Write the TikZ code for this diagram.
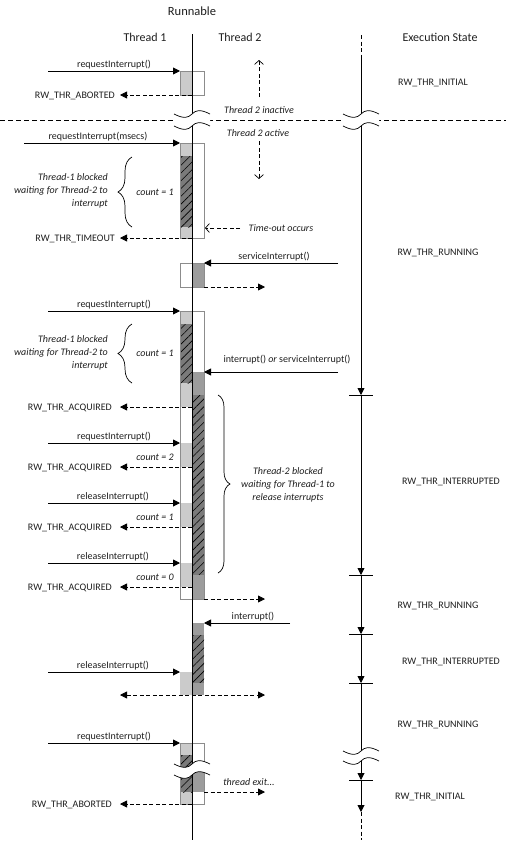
\documentclass[tikz,border=0pt]{standalone}
\usepackage{fontspec}
\setmainfont{Carlito}
\usetikzlibrary{arrows.meta,decorations.pathreplacing,patterns.meta}
\definecolor{lgray}{HTML}{CBCBCB}
\definecolor{dgray}{HTML}{9C9C9C}
\definecolor{hgray}{HTML}{7A7A7A}
\definecolor{bgray}{HTML}{8C8C8C}
\definecolor{txt}{HTML}{1E1E1E}
\tikzset{
  lbl/.style={font=\fontsize{10}{13}\selectfont, inner sep=0pt, text=txt},
  ilbl/.style={font=\fontsize{10}{13}\selectfont\itshape, inner sep=0pt, text=txt},
  hdr/.style={font=\fontsize{12}{14}\selectfont, inner sep=0pt, text=txt},
  callarrow/.style={line width=0.9pt, -{Triangle[length=7pt,width=7pt]}},
  retarrow/.style={line width=0.8pt, dash pattern=on 4pt off 2.5pt, -{Triangle[length=7pt,width=7pt]}},
  bothret/.style={line width=0.8pt, dash pattern=on 4pt off 2.5pt, {Triangle[length=7pt,width=7pt]}-{Triangle[length=7pt,width=7pt]}},
  notearrow/.style={line width=0.7pt, dash pattern=on 4pt off 2.5pt, -{Straight Barb[length=4pt,width=9pt]}},
  lifeline/.style={line width=0.9pt},
  outl/.style={draw=bgray, line width=0.6pt},
  lfill/.style={fill=lgray},
  dfill/.style={fill=dgray},
  hatch/.style={fill=hgray, postaction={pattern={Lines[angle=45,distance=5.5pt,line width=0.6pt]}, pattern color=black}},
  wavestroke/.style={line width=0.7pt},
  tickline/.style={line width=0.9pt},
  brc/.style={decorate, decoration={brace, amplitude=#1}, line width=0.7pt},
}
\newcommand\wavebreak[3]{%
  \fill[white] ({#1-18},#2) .. controls ({#1-8},{#2+5}) and ({#1-4},{#2+4}) .. (#1,#2)
     .. controls ({#1+4},{#2-4}) and ({#1+8},{#2-5}) .. ({#1+18},#2)
     -- ({#1+18},#3) .. controls ({#1+8},{#3-5}) and ({#1+4},{#3-4}) .. (#1,#3)
     .. controls ({#1-4},{#3+4}) and ({#1-8},{#3+5}) .. ({#1-18},#3) -- cycle;
  \draw[wavestroke] ({#1-18},#2) .. controls ({#1-8},{#2+5}) and ({#1-4},{#2+4}) .. (#1,#2)
     .. controls ({#1+4},{#2-4}) and ({#1+8},{#2-5}) .. ({#1+18},#2);
  \draw[wavestroke] ({#1-18},#3) .. controls ({#1-8},{#3+5}) and ({#1-4},{#3+4}) .. (#1,#3)
     .. controls ({#1+4},{#3-4}) and ({#1+8},{#3-5}) .. ({#1+18},#3);
}
\begin{document}
\begin{tikzpicture}[x=1pt,y=-1pt]
\useasboundingbox (0,0) rectangle (506,844);
% headers
\node[font=\fontsize{12.5}{14}\selectfont, inner sep=0pt, text=txt, anchor=base] (hrun) at (192,15) {Runnable};
\node[hdr, anchor=base] (ht1) at (145,41) {Thread 1};
\node[hdr, anchor=base] (ht2) at (240,41) {Thread 2};
\node[hdr, anchor=base] (hex) at (440,41) {Execution State};

% ---------- box fills ----------
% box A
\fill[lfill] (180,71) rectangle (192,95);
\draw[outl] (180,71) rectangle (204,95);
% box B
\fill[lfill] (180,143) rectangle (192,238);
\path[hatch] (181,156) rectangle (192,227);
\draw[outl] (180,143) rectangle (204,238);
% box C
\fill[dfill] (192,263) rectangle (204,287);
\draw[outl] (180,263) rectangle (204,287);
% box D
\fill[lfill] (180,311) rectangle (192,407);
\path[hatch] (181,324) rectangle (192,383);
\fill[lfill] (180,443) rectangle (192,467);
\fill[lfill] (180,503) rectangle (192,527);
\fill[lfill] (180,563) rectangle (192,587);
\fill[dfill] (192,372) rectangle (204,395);
\path[hatch] (192,395) rectangle (204,575);
\fill[dfill] (192,575) rectangle (204,599);
\draw[outl] (180,311) rectangle (204,599);
% box E
\fill[dfill] (192,623) rectangle (204,635);
\path[hatch] (192,635) rectangle (204,683);
\fill[dfill] (192,683) rectangle (204,695);
\fill[lfill] (180,672) rectangle (192,695);
% box F
\fill[lfill] (180,743) rectangle (192,804);
\path[hatch] (181,755) rectangle (192,770);
\path[hatch] (181,772) rectangle (192,792);
\fill[dfill] (192,772) rectangle (204,792);
\draw[outl] (180,743) rectangle (204,804);

% ---------- lifelines ----------
\coordinate (t1top) at (192,34);
\coordinate (t1bot) at (192,840);
\draw[lifeline] (t1top) -- (t1bot);
% execution state line
\coordinate (e0) at (361,35);
\coordinate (e1) at (361,58);
\coordinate (k1) at (361,395);
\coordinate (k2) at (361,575);
\coordinate (k3) at (361,634);
\coordinate (k4) at (361,683);
\coordinate (k5) at (361,780);
\coordinate (k6) at (361,812);
\coordinate (e9) at (361,840);
\draw[lifeline, dash pattern=on 4pt off 2.5pt] (e0) -- (e1);
\draw[callarrow] (e1) -- (k1);
\draw[callarrow] (k1) -- (k2);
\draw[callarrow] (k2) -- (k3);
\draw[callarrow] (k3) -- (k4);
\draw[callarrow] (k4) -- (k5);
\draw[callarrow] (k5) -- (k6);
\draw[lifeline, dash pattern=on 4pt off 2.5pt] (k6) -- (e9);
\foreach \k in {k1,k2,k3,k4,k5}{
  \draw[tickline] ([xshift=-12pt]\k) -- ([xshift=12pt]\k);
}

% separator
\coordinate (sepL) at (0,120);
\coordinate (sepR) at (506,120);
\draw[line width=0.8pt, dash pattern=on 5pt off 3pt] (sepL) -- (sepR);

% ---------- Thread 1 calls ----------
\coordinate (c1a) at (48,71);  \coordinate (c1b) at (180,71);
\coordinate (c2a) at (24,143); \coordinate (c2b) at (180,143);
\coordinate (c3a) at (48,311); \coordinate (c3b) at (180,311);
\coordinate (c4a) at (48,443); \coordinate (c4b) at (180,443);
\coordinate (c5a) at (48,503); \coordinate (c5b) at (180,503);
\coordinate (c6a) at (48,563); \coordinate (c6b) at (180,563);
\coordinate (c7a) at (48,672); \coordinate (c7b) at (180,672);
\coordinate (c8a) at (48,743); \coordinate (c8b) at (180,743);
\draw[callarrow] (c1a) -- (c1b);
\draw[callarrow] (c2a) -- (c2b);
\draw[callarrow] (c3a) -- (c3b);
\draw[callarrow] (c4a) -- (c4b);
\draw[callarrow] (c5a) -- (c5b);
\draw[callarrow] (c6a) -- (c6b);
\draw[callarrow] (c7a) -- (c7b);
\draw[callarrow] (c8a) -- (c8b);
\node[lbl, anchor=base] (l1) at (114,67) {requestInterrupt()};
\node[lbl, anchor=base] (l2) at (98,139) {requestInterrupt(msecs)};
\node[lbl, anchor=base] (l3) at (114,307) {requestInterrupt()};
\node[lbl, anchor=base] (l4) at (114,439) {requestInterrupt()};
\node[lbl, anchor=base] (l5) at (113,499) {releaseInterrupt()};
\node[lbl, anchor=base] (l6) at (113,559) {releaseInterrupt()};
\node[lbl, anchor=base] (l7) at (113,668) {releaseInterrupt()};
\node[lbl, anchor=base] (l8) at (114,739) {requestInterrupt()};

% ---------- Thread 1 returns ----------
\foreach \n/\y in {1/95,2/238,3/407,4/467,5/527,6/587,7/804}{
  \coordinate (r\n a) at (192,\y);
  \coordinate (r\n b) at (120,\y);
  \draw[retarrow] (r\n a) -- (r\n b);
}
\node[lbl, anchor=base east] (rl1) at (115,98.5) {RW\_THR\_ABORTED};
\node[lbl, anchor=base east] (rl2) at (115,241.5) {RW\_THR\_TIMEOUT};
\node[lbl, anchor=base east] (rl3) at (112,410.5) {RW\_THR\_ACQUIRED};
\node[lbl, anchor=base east] (rl4) at (112,470.5) {RW\_THR\_ACQUIRED};
\node[lbl, anchor=base east] (rl5) at (112,530.5) {RW\_THR\_ACQUIRED};
\node[lbl, anchor=base east] (rl6) at (112,590.5) {RW\_THR\_ACQUIRED};
\node[lbl, anchor=base east] (rl7) at (112,807.5) {RW\_THR\_ABORTED};

% counts
\node[ilbl, anchor=base] (cn1) at (155,195.5) {count = 1};
\node[ilbl, anchor=base] (cn2) at (155,356.5) {count = 1};
\node[ilbl, anchor=base] (cn3) at (155,460.5) {count = 2};
\node[ilbl, anchor=base] (cn4) at (155,520.5) {count = 1};
\node[ilbl, anchor=base] (cn5) at (155,580.5) {count = 0};

% braces
\coordinate (b1a) at (132,227); \coordinate (b1b) at (132,157);
\draw[brc=14pt] (b1a) -- (b1b);
\node[ilbl, align=right, anchor=east] (bt1) at (108,191) {Thread-1 blocked\\waiting for Thread-2 to\\interrupt};
\coordinate (b2a) at (132,383); \coordinate (b2b) at (132,324);
\draw[brc=14pt] (b2a) -- (b2b);
\node[ilbl, align=right, anchor=east] (bt2) at (108,353) {Thread-1 blocked\\waiting for Thread-2 to\\interrupt};
\coordinate (b3a) at (218,395); \coordinate (b3b) at (218,573);
\draw[brc=12pt] (b3a) -- (b3b);
\node[ilbl, align=center] (bt3) at (288,485) {Thread-2 blocked\\waiting for Thread-1 to\\release interrupts};

% ---------- Thread 2 ----------
\coordinate (ia) at (259,97); \coordinate (ib) at (259,60);
\draw[notearrow] (ia) -- (ib);
\coordinate (aa) at (259,141); \coordinate (ab) at (259,179);
\draw[notearrow] (aa) -- (ab);
\node[ilbl, anchor=base] (tin) at (259,113.5) {Thread 2 inactive};
\node[ilbl, anchor=base] (tac) at (258,136.5) {Thread 2 active};
\coordinate (toa) at (240,228); \coordinate (tob) at (205,228);
\draw[notearrow] (toa) -- (tob);
\node[ilbl, anchor=base] (tol) at (281,231.5) {Time-out occurs};

\coordinate (s1a) at (338,263); \coordinate (s1b) at (204,263);
\coordinate (s2a) at (338,372); \coordinate (s2b) at (204,372);
\coordinate (s3a) at (290,623); \coordinate (s3b) at (204,623);
\draw[callarrow] (s1a) -- (s1b);
\draw[callarrow] (s2a) -- (s2b);
\draw[callarrow] (s3a) -- (s3b);
\node[lbl, anchor=base] (sl1) at (274,259.5) {serviceInterrupt()};
\node[lbl, anchor=base] (sl2) at (287,362) {interrupt() \textit{or} serviceInterrupt()};
\node[lbl, anchor=base] (sl3) at (253,619.5) {interrupt()};

\coordinate (x1a) at (204,287); \coordinate (x1b) at (265,287);
\coordinate (x2a) at (204,599); \coordinate (x2b) at (265,599);
\coordinate (x3a) at (120,695); \coordinate (x3b) at (265,695);
\coordinate (x4a) at (204,792); \coordinate (x4b) at (265,792);
\draw[retarrow] (x1a) -- (x1b);
\draw[retarrow] (x2a) -- (x2b);
\draw[bothret] (x3a) -- (x3b);
\draw[retarrow] (x4a) -- (x4b);
\node[ilbl, anchor=base] (tex) at (249,785) {thread exit...};

% ---------- execution states ----------
\node[lbl, anchor=base] (st1) at (433,85.5) {RW\_THR\_INITIAL};
\node[lbl, anchor=base] (st2) at (438,255.5) {RW\_THR\_RUNNING};
\node[lbl, anchor=base] (st3) at (451,484.5) {RW\_THR\_INTERRUPTED};
\node[lbl, anchor=base] (st4) at (438,608.5) {RW\_THR\_RUNNING};
\node[lbl, anchor=base] (st5) at (451,664.5) {RW\_THR\_INTERRUPTED};
\node[lbl, anchor=base] (st6) at (438,727.5) {RW\_THR\_RUNNING};
\node[lbl, anchor=base] (st7) at (430,799.5) {RW\_THR\_INITIAL};

% ---------- breaks ----------
\wavebreak{192}{114}{126}
\wavebreak{361}{114}{126}
\wavebreak{192}{764}{775}
\wavebreak{361}{751}{761}
\end{tikzpicture}
\end{document}
